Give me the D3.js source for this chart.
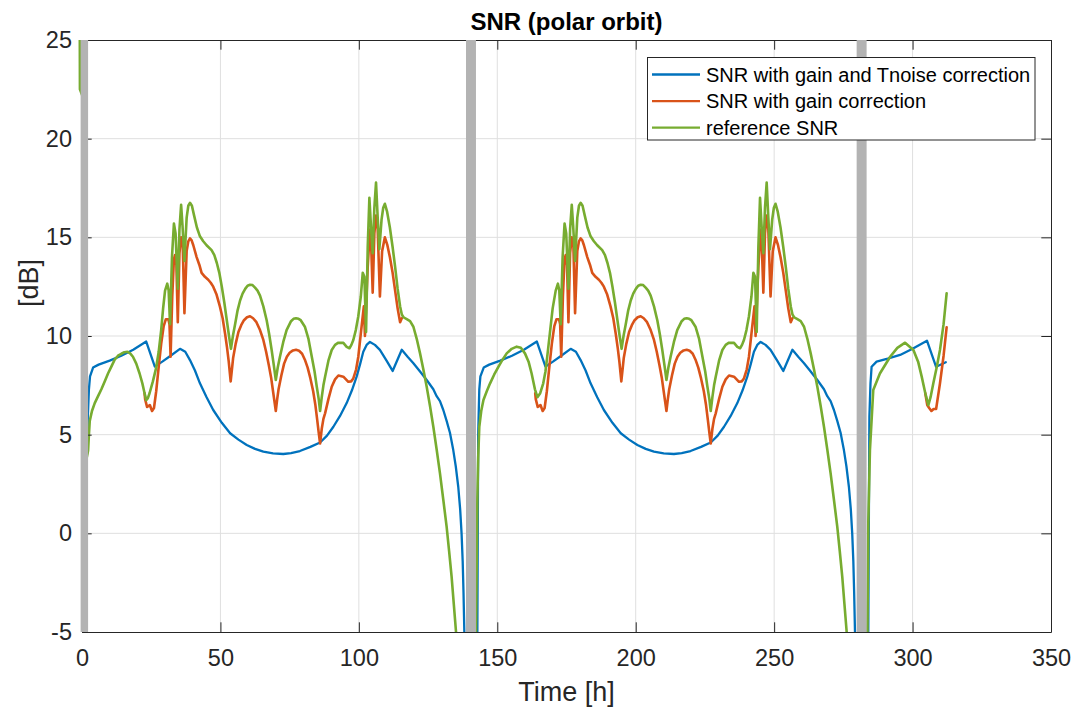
<!DOCTYPE html>
<html>
<head>
<meta charset="utf-8">
<script src="https://cdn.jsdelivr.net/npm/d3@7"></script>
<style>
  html, body { margin: 0; padding: 0; background: #ffffff; }
  svg { display: block; font-family: "Liberation Sans", Arial, Helvetica, sans-serif; }
</style>
</head>
<body>
<svg id="chart" width="1082" height="711"></svg>
<script>
// Axis ticks
const xTicks = [0, 50, 100, 150, 200, 250, 300, 350];
const yTicks = [-5, 0, 5, 10, 15, 20, 25];

// Shaded gaps between passes (hours)
const gapBands = [[-0.5, 2.2], [138.7, 142.3], [279.8, 283.4]];

const seriesNames = ["SNR with gain and Tnoise correction", "SNR with gain correction", "reference SNR"];
const seriesColors = ["#0072BD", "#D95319", "#77AC30"];

// SNR with gain and Tnoise correction [h, dB]
const snrGainTnoise = [
  [1.8,4.0],[2.1,5.9],[2.5,7.3],[2.9,7.95],[4.0,8.4],[6.0,8.55],[10.0,8.75],[14.2,9.0],[18.5,9.3],[23.2,9.72],
  [26.3,8.45],[29.0,8.7],[32.0,9.0],[35.4,9.35],[37.3,9.2],[39.0,8.78],[40.8,8.25],[42.6,7.6],[45.0,6.9],[47.4,6.25],
  [50.5,5.6],[53.5,5.07],[56.5,4.75],[59.5,4.48],[62.5,4.28],[65.5,4.14],[69.0,4.05],[72.7,4.02],[75.5,4.07],[78.7,4.17],
  [82.5,4.38],[86.0,4.6],[88.5,4.95],[90.8,5.4],[93.2,5.95],[95.6,6.6],[97.5,7.25],[99.2,7.94],[100.5,8.6],[101.6,9.2],
  [102.8,9.55],[104.0,9.7],[105.8,9.55],[107.6,9.3],[110.0,8.75],[112.2,8.23],[115.5,9.3],[117.6,8.95],[119.7,8.62],[122.1,8.2],
  [124.5,7.77],[126.9,7.3],[128.1,6.95],[129.3,6.7],[130.5,6.25],[131.7,5.7],[132.9,5.1],[134.1,4.22],[135.0,3.4],[135.9,2.36],
  [136.6,1.2],[137.1,0.0],[137.5,-1.4],[137.8,-3.0],[138.1,-5.0],[138.3,-6.0],
  [142.6,-6.0],[142.8,-5.0],[143.1,5.0],[143.5,7.3],[143.9,7.95],[145.1,8.4],[147.1,8.55],[151.1,8.75],[155.3,9.0],[159.6,9.3],
  [164.3,9.72],[167.4,8.45],[170.1,8.7],[173.1,9.0],[176.5,9.35],[178.4,9.2],[180.1,8.78],[181.9,8.25],[183.7,7.6],[186.1,6.9],
  [188.5,6.25],[191.6,5.6],[194.6,5.07],[197.6,4.75],[200.6,4.48],[203.6,4.28],[206.6,4.14],[210.1,4.05],[213.8,4.02],[216.6,4.07],
  [219.8,4.17],[223.6,4.38],[227.1,4.6],[229.6,4.95],[231.9,5.4],[234.3,5.95],[236.7,6.6],[238.6,7.25],[240.3,7.94],[241.6,8.6],
  [242.7,9.2],[243.9,9.55],[245.1,9.7],[246.9,9.55],[248.7,9.3],[251.1,8.75],[253.3,8.23],[256.6,9.3],[258.7,8.95],[260.8,8.62],
  [263.2,8.2],[265.6,7.77],[268.0,7.3],[269.2,6.95],[270.4,6.7],[271.6,6.25],[272.8,5.7],[274.0,5.1],[275.2,4.22],[276.1,3.4],
  [277.0,2.36],[277.7,1.2],[278.2,0.0],[278.6,-1.4],[278.9,-3.0],[279.2,-5.0],[279.4,-6.0],
  [283.8,-6.0],[284.0,-5.0],[284.4,5.9],[284.8,7.6],[285.2,8.44],[287.0,8.7],[291.0,8.85],[295.5,9.04],[300.0,9.35],[305.2,9.76],
  [308.5,8.44],[312.0,8.67]
];

// SNR with gain correction [h, dB]; null where the curve runs under the reference SNR
const snrGain = [
  [22.6,7.1],[22.8,6.8],[23.5,6.4],[24.5,6.5],[25.3,6.2],[26.0,6.35],[26.8,7.2],[27.6,8.3],[28.6,9.6],[29.5,10.5],
  [30.3,10.85],[31.2,10.85],[31.6,10.6],[32.0,8.95],[32.6,12.0],[33.2,13.9],[33.6,14.1],[34.1,13.6],[34.6,10.7],[35.2,14.2],
  [35.8,15.0],[36.4,14.5],[37.0,11.15],[37.8,14.3],[38.4,14.8],[39.0,14.95],[39.6,14.85],[40.2,14.6],[41.4,14.0],[42.4,13.6],
  [43.2,13.2],[44.4,13.0],[45.6,12.85],[46.5,12.7],[47.4,12.5],[48.6,12.1],[49.8,11.5],[50.8,10.9],[51.7,10.1],[52.4,9.4],
  [53.0,8.7],[53.7,7.7],[54.3,8.5],[54.6,8.9],[55.5,9.6],[56.5,10.2],[57.5,10.55],[58.5,10.8],[59.6,10.95],[60.7,11.0],
  [61.8,10.9],[63.0,10.7],[64.3,10.3],[65.5,9.8],[66.5,9.2],[67.5,8.5],[68.3,7.9],[69.0,7.2],[69.5,6.7],[70.0,6.2],
  [70.5,6.8],[71.0,7.3],[72.0,8.0],[73.0,8.6],[74.0,8.95],[75.0,9.15],[76.2,9.27],[77.3,9.3],[78.4,9.25],[79.5,9.1],
  [80.5,8.8],[81.5,8.4],[82.5,7.85],[83.5,7.2],[84.3,6.5],[85.0,5.7],[85.5,5.1],[86.0,4.55],[86.6,5.3],[87.2,5.8],
  [87.8,6.08],[89.0,6.8],[90.2,7.43],[91.4,7.8],[92.6,8.0],[94.4,7.94],[96.2,7.68],[97.2,7.7],[98.0,7.85],[99.0,8.3],
  [99.8,8.95],[101.0,10.5],[101.8,11.5],[102.2,10.0],[103.2,13.5],[104.0,15.4],[104.4,14.8],[105.0,12.2],[105.6,15.2],[106.2,16.1],
  [106.8,15.4],[107.6,12.0],[108.4,14.3],[109.4,15.0],[110.3,14.6],[111.2,14.0],[112.2,13.2],[113.1,12.3],[114.0,11.4],[114.9,10.7],
  [115.5,10.9],[115.6,null],
  [163.7,7.1],[163.9,6.8],[164.6,6.4],[165.6,6.5],[166.4,6.2],[167.1,6.35],[167.9,7.2],[168.7,8.3],[169.7,9.6],[170.6,10.5],
  [171.4,10.85],[172.3,10.85],[172.7,10.6],[173.1,8.95],[173.7,12.0],[174.3,13.9],[174.7,14.1],[175.2,13.6],[175.7,10.7],[176.3,14.2],
  [176.9,15.0],[177.5,14.5],[178.1,11.15],[178.9,14.3],[179.5,14.8],[180.1,14.95],[180.7,14.85],[181.3,14.6],[182.5,14.0],[183.5,13.6],
  [184.3,13.2],[185.5,13.0],[186.7,12.85],[187.6,12.7],[188.5,12.5],[189.7,12.1],[190.9,11.5],[191.9,10.9],[192.8,10.1],[193.5,9.4],
  [194.1,8.7],[194.8,7.7],[195.4,8.5],[195.7,8.9],[196.6,9.6],[197.6,10.2],[198.6,10.55],[199.6,10.8],[200.7,10.95],[201.8,11.0],
  [202.9,10.9],[204.1,10.7],[205.4,10.3],[206.6,9.8],[207.6,9.2],[208.6,8.5],[209.4,7.9],[210.1,7.2],[210.6,6.7],[211.1,6.2],
  [211.6,6.8],[212.1,7.3],[213.1,8.0],[214.1,8.6],[215.1,8.95],[216.1,9.15],[217.3,9.27],[218.4,9.3],[219.5,9.25],[220.6,9.1],
  [221.6,8.8],[222.6,8.4],[223.6,7.85],[224.6,7.2],[225.4,6.5],[226.1,5.7],[226.6,5.1],[227.1,4.55],[227.7,5.3],[228.3,5.8],
  [228.9,6.08],[230.1,6.8],[231.3,7.43],[232.5,7.8],[233.7,8.0],[235.5,7.94],[237.3,7.68],[238.3,7.7],[239.1,7.85],[240.1,8.3],
  [240.9,8.95],[242.1,10.5],[242.9,11.5],[243.3,10.0],[244.3,13.5],[245.1,15.4],[245.5,14.8],[246.1,12.2],[246.7,15.2],[247.3,16.1],
  [247.9,15.4],[248.7,12.0],[249.5,14.3],[250.5,15.0],[251.4,14.6],[252.3,14.0],[253.3,13.2],[254.2,12.3],[255.1,11.4],[256.0,10.7],
  [256.6,10.9],[256.7,null],
  [304.6,7.1],[305.3,6.5],[306.0,6.35],[306.8,6.2],[307.6,6.3],[308.5,6.3],[309.9,7.6],[311.2,9.0],[312.3,10.44]
];

// reference SNR [h, dB]
const snrReference = [
  [-0.8,25.6],[-0.75,22.5],[0.6,22.0],[1.4,3.6],[2.2,4.2],[2.5,5.0],[2.8,5.7],[3.6,6.2],[4.6,6.6],[5.8,6.95],
  [7.0,7.3],[8.2,7.7],[9.4,8.1],[10.6,8.45],[11.8,8.8],[13.0,9.0],[14.2,9.1],[15.3,9.18],[16.4,9.2],[17.4,9.12],
  [18.4,8.95],[19.6,8.6],[20.8,8.1],[21.8,7.6],[22.6,7.1],[23.2,6.75],[23.8,6.85],[24.4,7.1],[25.6,7.7],[26.8,8.4],
  [27.7,9.2],[28.6,10.3],[29.3,11.4],[30.0,12.3],[30.8,12.65],[31.3,12.3],[31.8,10.6],[32.5,14.0],[33.2,15.7],[33.8,15.2],
  [34.6,12.4],[35.2,15.4],[35.8,16.65],[36.3,15.6],[37.0,13.8],[37.8,16.0],[38.4,16.6],[39.0,16.75],[39.7,16.6],[40.5,16.1],
  [41.5,15.5],[42.6,15.05],[43.8,14.8],[45.0,14.6],[46.8,14.35],[47.8,14.1],[48.7,13.7],[49.6,13.2],[50.5,12.5],[51.4,11.7],
  [52.3,10.8],[53.1,10.0],[53.8,9.35],[54.5,10.0],[55.3,10.6],[56.2,11.3],[57.1,11.8],[58.0,12.15],[59.0,12.4],[59.8,12.55],
  [60.7,12.6],[61.6,12.58],[62.5,12.45],[63.4,12.3],[64.3,12.05],[65.5,11.5],[66.7,10.8],[67.6,10.1],[68.5,9.29],[69.3,8.5],
  [70.0,7.77],[70.7,8.4],[71.5,8.95],[72.7,9.7],[73.9,10.3],[75.5,10.75],[76.4,10.87],[77.3,10.9],[78.2,10.87],[79.0,10.8],
  [80.5,10.47],[81.8,9.85],[83.0,8.95],[84.0,8.2],[84.8,7.43],[85.5,6.8],[86.0,6.2],[86.6,6.9],[87.2,7.5],[87.8,7.94],
  [89.0,8.75],[90.2,9.29],[91.4,9.55],[92.6,9.66],[94.4,9.65],[95.6,9.45],[96.6,9.38],[97.3,9.55],[98.0,9.8],[98.9,10.3],
  [99.8,11.0],[100.7,12.0],[101.4,13.2],[102.0,13.0],[102.6,10.2],[103.2,14.5],[103.8,17.0],[104.4,15.5],[105.0,14.2],[105.6,16.5],
  [106.2,17.77],[106.8,16.0],[107.4,14.4],[108.2,15.9],[108.8,16.5],[109.4,16.7],[110.2,16.3],[111.2,15.5],[112.2,14.5],[113.1,13.5],
  [114.0,12.4],[114.9,11.5],[115.5,11.1],[116.1,10.95],[117.3,10.85],[118.5,10.75],[119.7,10.47],[121.0,9.8],[122.1,9.12],[123.3,8.3],
  [124.5,7.43],[125.7,6.45],[126.9,5.4],[128.1,4.25],[129.3,3.04],[130.5,1.7],[131.7,0.34],[132.6,-0.9],[133.5,-2.2],[134.3,-3.6],
  [135.1,-5.0],[135.3,-6.0],
  [142.1,-6.0],[142.3,-5.0],[142.6,-1.0],[142.8,1.7],[143.1,3.8],[143.5,5.4],[144.2,6.2],[145.0,6.76],[146.2,7.2],[147.4,7.6],
  [148.9,8.05],[150.4,8.44],[151.9,8.8],[153.4,9.12],[155.2,9.35],[157.0,9.46],[158.5,9.4],[160.0,9.12],[161.3,8.7],[162.4,8.1],
  [163.6,7.3],[164.5,6.9],[165.5,7.1],[166.6,7.6],[167.4,8.2],[168.0,8.9],[169.0,10.15],[170.0,11.4],[171.1,12.3],[171.9,12.65],
  [172.4,12.3],[172.9,10.6],[173.6,14.0],[174.3,15.7],[174.9,15.2],[175.7,12.4],[176.3,15.4],[176.9,16.65],[177.4,15.6],[178.1,13.8],
  [178.9,16.0],[179.5,16.6],[180.1,16.75],[180.8,16.6],[181.6,16.1],[182.6,15.5],[183.7,15.05],[184.9,14.8],[186.1,14.6],[187.9,14.35],
  [188.9,14.1],[189.8,13.7],[190.7,13.2],[191.6,12.5],[192.5,11.7],[193.4,10.8],[194.2,10.0],[194.9,9.35],[195.6,10.0],[196.4,10.6],
  [197.3,11.3],[198.2,11.8],[199.1,12.15],[200.1,12.4],[200.9,12.55],[201.8,12.6],[202.7,12.58],[203.6,12.45],[204.5,12.3],[205.4,12.05],
  [206.6,11.5],[207.8,10.8],[208.7,10.1],[209.6,9.29],[210.4,8.5],[211.1,7.77],[211.8,8.4],[212.6,8.95],[213.8,9.7],[215.0,10.3],
  [216.6,10.75],[217.5,10.87],[218.4,10.9],[219.3,10.87],[220.1,10.8],[221.6,10.47],[222.9,9.85],[224.1,8.95],[225.1,8.2],[225.9,7.43],
  [226.6,6.8],[227.1,6.2],[227.7,6.9],[228.3,7.5],[228.9,7.94],[230.1,8.75],[231.3,9.29],[232.5,9.55],[233.7,9.66],[235.5,9.65],
  [236.7,9.45],[237.7,9.38],[238.4,9.55],[239.1,9.8],[240.0,10.3],[240.9,11.0],[241.8,12.0],[242.5,13.2],[243.1,13.0],[243.7,10.2],
  [244.3,14.5],[244.9,17.0],[245.5,15.5],[246.1,14.2],[246.7,16.5],[247.3,17.77],[247.9,16.0],[248.5,14.4],[249.3,15.9],[249.9,16.5],
  [250.5,16.7],[251.3,16.3],[252.3,15.5],[253.3,14.5],[254.2,13.5],[255.1,12.4],[256.0,11.5],[256.6,11.1],[257.2,10.95],[258.4,10.85],
  [259.6,10.75],[260.8,10.47],[262.1,9.8],[263.2,9.12],[264.4,8.3],[265.6,7.43],[266.8,6.45],[268.0,5.4],[269.2,4.25],[270.4,3.04],
  [271.6,1.7],[272.8,0.34],[273.7,-0.9],[274.6,-2.2],[275.4,-3.6],[276.2,-5.0],[276.4,-6.0],
  [283.5,-6.0],[283.7,-5.0],[284.0,0.5],[284.6,4.22],[285.8,7.26],[288.2,8.1],[291.9,8.95],[294.5,9.4],[297.3,9.66],[300.3,9.29],
  [302.0,8.7],[303.3,7.94],[304.6,7.1],[305.7,6.5],[306.5,6.9],[307.5,7.6],[308.7,8.4],[309.9,9.29],[311.2,10.6],[312.3,12.16]
];

const series = [snrGainTnoise, snrGain, snrReference];

// ---- layout ----
const svg = d3.select("#chart");
const plot = { left: 82, right: 1051, top: 40, bottom: 632 };
const ink = "#262626";
const x = d3.scaleLinear().domain([0, 350]).range([plot.left, plot.right]);
const y = d3.scaleLinear().domain([-5, 25]).range([plot.bottom, plot.top]);
const tickLen = 9.7;

// plot background
svg.append("rect")
  .attr("x", plot.left).attr("y", plot.top)
  .attr("width", plot.right - plot.left).attr("height", plot.bottom - plot.top)
  .attr("fill", "#ffffff");

// grid
const grid = svg.append("g").attr("stroke", "#dfdfdf").attr("stroke-width", 1);
grid.selectAll("line.gx").data(xTicks.slice(1, -1)).join("line")
  .attr("x1", d => x(d)).attr("x2", d => x(d))
  .attr("y1", plot.top).attr("y2", plot.bottom);
grid.selectAll("line.gy").data(yTicks.slice(1, -1)).join("line")
  .attr("x1", plot.left).attr("x2", plot.right)
  .attr("y1", d => y(d)).attr("y2", d => y(d));

// clip for the data lines
svg.append("defs").append("clipPath").attr("id", "plotClip")
  .append("rect")
  .attr("x", plot.left - 4).attr("y", plot.top)
  .attr("width", plot.right - plot.left + 4).attr("height", plot.bottom - plot.top);

const line = d3.line()
  .defined(d => d[1] !== null)
  .x(d => x(d[0]))
  .y(d => y(d[1]));

const lines = svg.append("g").attr("clip-path", "url(#plotClip)");
series.forEach((s, i) => {
  lines.append("path")
    .datum(s)
    .attr("fill", "none")
    .attr("stroke", seriesColors[i])
    .attr("stroke-width", i === 0 ? 2.3 : 2.6)
    .attr("stroke-linejoin", "round")
    .attr("stroke-linecap", "round")
    .attr("d", line);
});

// axes (ticks pointing inward, box on)
const fmt = d => String(d);
const gx = svg.append("g").attr("transform", `translate(0,${plot.bottom})`)
  .call(d3.axisBottom(x).tickValues(xTicks).tickFormat(fmt).tickSizeInner(-tickLen).tickSizeOuter(0).tickPadding(17));
const gxTop = svg.append("g").attr("transform", `translate(0,${plot.top})`)
  .call(d3.axisTop(x).tickValues(xTicks).tickFormat("").tickSizeInner(-tickLen).tickSizeOuter(0));
const gy = svg.append("g").attr("transform", `translate(${plot.left},0)`)
  .call(d3.axisLeft(y).tickValues(yTicks).tickFormat(fmt).tickSizeInner(-tickLen).tickSizeOuter(0).tickPadding(10));
const gyRight = svg.append("g").attr("transform", `translate(${plot.right},0)`)
  .call(d3.axisRight(y).tickValues(yTicks).tickFormat("").tickSizeInner(-tickLen).tickSizeOuter(0));

[gx, gxTop, gy, gyRight].forEach(g => {
  g.select(".domain").attr("stroke", ink).attr("stroke-width", 1);
  g.selectAll(".tick line").attr("stroke", ink).attr("stroke-width", 1);
  g.selectAll(".tick text").attr("fill", ink).attr("font-size", 23.5)
    .attr("font-family", "'Liberation Sans', Arial, Helvetica, sans-serif");
});

// shaded gaps
svg.append("g").selectAll("rect").data(gapBands).join("rect")
  .attr("x", d => x(d[0]))
  .attr("width", d => x(d[1]) - x(d[0]))
  .attr("y", y(25))
  .attr("height", y(-5) - y(25))
  .attr("fill", "#b3b3b3");

// title and axis labels
svg.append("text")
  .attr("x", (plot.left + plot.right) / 2).attr("y", 30)
  .attr("text-anchor", "middle")
  .attr("font-size", 24).attr("font-weight", "bold").attr("fill", "#000")
  .text("SNR (polar orbit)");

svg.append("text")
  .attr("x", (plot.left + plot.right) / 2).attr("y", 701)
  .attr("text-anchor", "middle")
  .attr("font-size", 27).attr("fill", ink)
  .text("Time [h]");

svg.append("text")
  .attr("transform", `translate(38,283) rotate(-90)`)
  .attr("text-anchor", "middle")
  .attr("font-size", 27).attr("fill", ink)
  .text("[dB]");

// legend
const legend = svg.append("g").attr("transform", "translate(647.5,57.5)");
legend.append("rect")
  .attr("width", 387.5).attr("height", 82.5)
  .attr("fill", "#ffffff").attr("stroke", ink).attr("stroke-width", 1);
seriesNames.forEach((name, i) => {
  const ly = 17 + i * 26.6;
  legend.append("line")
    .attr("x1", 4.5).attr("x2", 52.5).attr("y1", ly).attr("y2", ly)
    .attr("stroke", seriesColors[i]).attr("stroke-width", 2.3);
  legend.append("text")
    .attr("x", 58.5).attr("y", ly + 7)
    .attr("font-size", 20).attr("fill", "#000")
    .text(name);
});
</script>
</body>
</html>
